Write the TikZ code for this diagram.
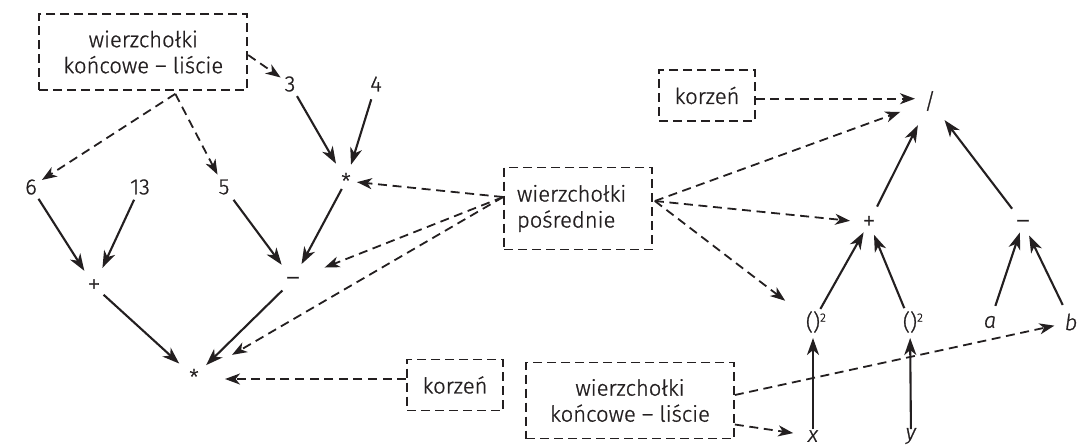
\documentclass[tikz,border=0pt]{standalone}
\usepackage{fontspec}
\setmainfont{Fira Sans}[UprightFont=* Light, ItalicFont=* Light Italic, FakeBold=1]
\usetikzlibrary{arrows.meta}
\definecolor{ink}{RGB}{35,31,32}
\tikzset{
  lbl/.style={inner sep=0pt, text=ink, font=\fontsize{11}{13}\selectfont},
  oplbl/.style={inner sep=0pt, text=ink, font=\fontsize{13}{15}\selectfont},
  dashlbl/.style={oplbl, text height=5.8pt, text depth=0pt},
  tagbox/.style={draw=ink, line width=0.85pt, dash pattern=on 4.5pt off 2.5pt,
    inner sep=0pt, align=center, text=ink, font=\fontsize{11}{13}\selectfont},
  leafbox/.style={tagbox, minimum width=104pt, minimum height=38pt},
  rootbox/.style={tagbox, minimum width=48pt, minimum height=25.5pt},
  sol/.style={draw=ink, line width=1.05pt, -{Stealth[length=8.5pt,width=6pt,inset=2.5pt]}},
  dsh/.style={draw=ink, line width=0.9pt, dash pattern=on 4.5pt off 2.8pt,
    -{Stealth[length=7.5pt,width=5.5pt,inset=2.2pt]}},
}
\newcommand{\sq}{()\rlap{\raisebox{0.7ex}{\fontsize{6}{7}\selectfont 2}}}
\begin{document}
\begin{tikzpicture}[x=0.5pt,y=-0.5pt]
\useasboundingbox (0,0) rectangle (1092,447);
% boxes
\node[leafbox] (leafT) at (143.3,52) {wierzchołki\\końcowe – liście};
\node[leafbox] (leafB) at (630,400.5) {wierzchołki\\końcowe – liście};
\node[tagbox, minimum width=74pt, minimum height=41pt, text width=61pt, align=left] (pos) at (578,208.5) {wierzchołki\\pośrednie};
\node[rootbox] (krT) at (707,95.5) {korzeń};
\node[rootbox] (krB) at (455,385) {korzeń};
% left tree
\node[lbl] (n3) at (290,84) {3};
\node[lbl] (n4) at (376,84) {4};
\node[lbl] (n6) at (31,187) {6};
\node[lbl] (n13) at (140,187) {13};
\node[lbl] (n5) at (224,187) {5};
\node[lbl] (tstar) at (346,181) {*};
\node[oplbl] (lplus) at (94,286) {+};
\node[dashlbl] (lminus) at (293,280) {–};
\node[lbl] (bstar) at (194,377) {*};
% right tree
\node[lbl] (slash) at (930,101) {/};
\node[oplbl] (rplus) at (869,222.7) {+};
\node[dashlbl] (rminus) at (1023,223) {–};
\node[lbl] (sq1) at (813,322) {\sq};
\node[lbl] (sq2) at (910,322) {\sq};
\node[lbl] (na) at (990,322) {\textit{a}};
\node[lbl] (nb) at (1071,322) {\textit{b}};
\node[lbl] (nx) at (813,436) {\textit{x}};
\node[lbl] (ny) at (911,436) {\textit{y}};
% solid edges, left tree
\draw[sol, shorten <=7pt, shorten >=10pt] (n3.center) -- (tstar.center);
\draw[sol, shorten <=8pt, shorten >=8.5pt] (n4.center) -- (tstar.center);
\draw[sol, shorten <=7pt, shorten >=9pt] (n6.center) -- (lplus.center);
\draw[sol, shorten <=7pt, shorten >=10pt] (n13.center) -- (lplus.center);
\draw[sol, shorten <=8pt, shorten >=9.5pt] (n5.center) -- (lminus.center);
\draw[sol, shorten <=4.5pt, shorten >=9pt] (tstar.center) -- (lminus.center);
\draw[sol, shorten <=6.5pt, shorten >=10pt] (lplus.center) -- (bstar.center);
\draw[sol, shorten <=7.5pt, shorten >=8.5pt] (lminus.center) -- (bstar.center);
% solid edges, right tree
\draw[sol, shorten <=7.5pt, shorten >=5.5pt] (sq1.center) -- (rplus.center);
\draw[sol, shorten <=7.5pt, shorten >=6.5pt] (sq2.center) -- (rplus.center);
\draw[sol, shorten <=9pt, shorten >=13.5pt] (rplus.center) -- (slash.center);
\draw[sol, shorten <=9pt, shorten >=12pt] (rminus.center) -- (slash.center);
\draw[sol, shorten <=8.5pt, shorten >=5pt] (na.center) -- (rminus.center);
\draw[sol, shorten <=9.5pt, shorten >=7pt] (nb.center) -- (rminus.center);
\draw[sol, shorten <=3.5pt, shorten >=8pt] (nx.center) -- (sq1.center);
\draw[sol, shorten <=3.5pt, shorten >=8pt] (ny.center) -- (sq2.center);
% dashed pointers
\draw[dsh, shorten >=5.7pt] ([yshift=-1.5pt]leafT.east) -- (n3.center);
\draw[dsh, shorten >=6.5pt] ([xshift=16pt,yshift=-1.5pt]leafT.south) -- (n6.center);
\draw[dsh, shorten >=7pt] ([xshift=16pt,yshift=-1.5pt]leafT.south) -- (n5.center);
\draw[dsh, shorten >=5.5pt] ([yshift=5.75pt]pos.west) -- (tstar.center);
\draw[dsh, shorten >=17pt] ([yshift=5.75pt]pos.west) -- (lminus.center);
\draw[dsh, shorten >=22pt] ([yshift=5.75pt]pos.west) -- (bstar.center);
\draw[dsh, shorten >=15.8pt] ([xshift=1pt,yshift=3.75pt]pos.east) -- (slash.center);
\draw[dsh, shorten >=9.5pt] ([xshift=1pt,yshift=3.75pt]pos.east) -- (rplus.center);
\draw[dsh, shorten >=17.5pt] ([xshift=1pt,yshift=3.75pt]pos.east) -- (sq1.center);
\draw[dsh, shorten >=7.5pt] ([yshift=-1.6pt]krT.east) -- ([yshift=-1.6pt]krT.east -| slash.center);
\draw[dsh, shorten >=15.5pt] ([yshift=3pt]krB.west) -- ([yshift=3pt]krB.west -| bstar.center);
\draw[dsh, shorten >=8.5pt] ([yshift=2.75pt]leafB.east) -- (nb.center);
\draw[dsh, shorten >=10pt] ([yshift=-12pt]leafB.east) -- (nx.center);
\end{tikzpicture}
\end{document}
